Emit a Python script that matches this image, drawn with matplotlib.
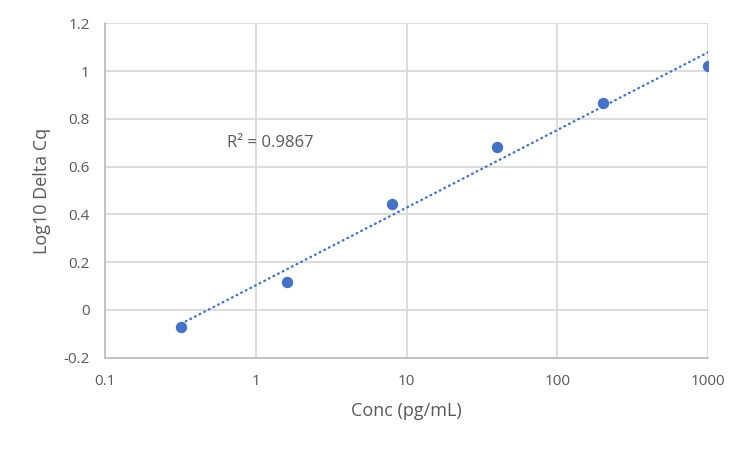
import numpy as np
import matplotlib
matplotlib.use("Agg")
import matplotlib.pyplot as plt

conc = [0.32, 1.6, 8, 40, 200, 1000]
log_delta_cq = [-0.071, 0.117, 0.445, 0.683, 0.867, 1.022]
y_ticks = [-0.2, 0, 0.2, 0.4, 0.6, 0.8, 1, 1.2]
y_tick_labels = ["-0.2", "0", "0.2", "0.4", "0.6", "0.8", "1", "1.2"]
x_ticks = [0.1, 1, 10, 100, 1000]
x_tick_labels = ["0.1", "1", "10", "100", "1000"]
r2_label = "R² = 0.9867"

plt.rcParams['font.family'] = ['Open Sans', 'DejaVu Sans']
blue = "#4472C4"
grid = "#D9D9D9"
txt = "#595959"

fig = plt.figure(figsize=(7.5, 4.5), dpi=100)
ax = fig.add_axes([0.14, 0.205, 0.804, 0.743])

lx = np.log10(conc)
a, b = np.polyfit(lx, log_delta_cq, 1)
xs = np.array([conc[0], conc[-1]])
ax.plot(xs, a * np.log10(xs) + b, color=blue, lw=1.7,
        linestyle=(0, (0.3, 1.9)), dash_capstyle='round', zorder=3)
ax.plot(conc, log_delta_cq, 'o', color=blue, markersize=8.2, zorder=4,
        markeredgewidth=0)

ax.set_xscale('log')
ax.set_xlim(0.1, 1000)
ax.set_ylim(-0.2, 1.2)
ax.set_xticks(x_ticks)
ax.set_xticklabels(x_tick_labels)
ax.set_yticks(y_ticks)
ax.set_yticklabels(y_tick_labels)
ax.minorticks_off()
ax.tick_params(length=0, colors=txt, labelsize=11)
ax.tick_params(axis='x', pad=12)
ax.tick_params(axis='y', pad=11)
ax.grid(True, color=grid, lw=1.3, zorder=0)
ax.set_axisbelow(True)
for s in ['top', 'right']:
    ax.spines[s].set_visible(False)
for s in ['left', 'bottom']:
    ax.spines[s].set_color("#BFBFBF")
    ax.spines[s].set_linewidth(1.3)

ax.set_xlabel("Conc (pg/mL)", color=txt, fontsize=13, labelpad=9)
ax.set_ylabel("Log10 Delta Cq", color=txt, fontsize=13, labelpad=9)
ax.text(0.64, 0.7, r2_label, color=txt, fontsize=12, va='center')

fig.savefig("out.png", dpi=100, facecolor='white')
